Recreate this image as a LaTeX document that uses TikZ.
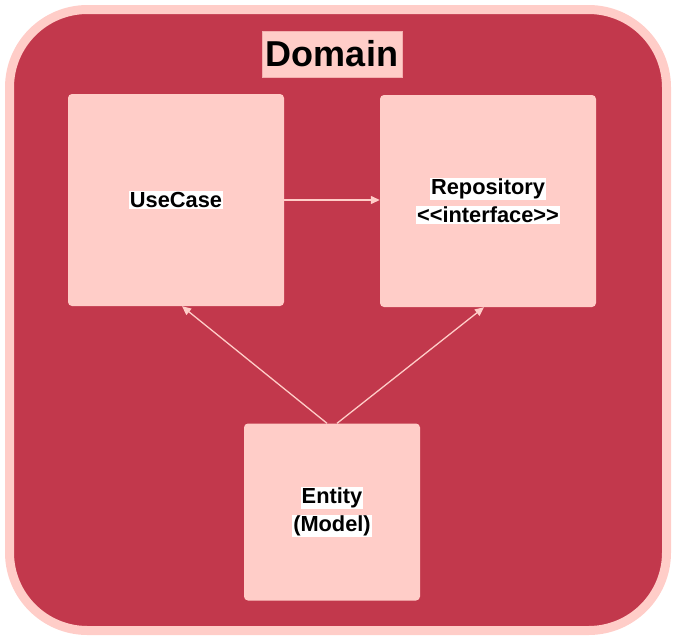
\documentclass[tikz,border=0pt]{standalone}
\usepackage{fontspec}
\setmainfont{Liberation Sans}
\usepackage{tikz}
\usetikzlibrary{arrows.meta,positioning}
\definecolor{domainred}{HTML}{C2384C}
\definecolor{domainpink}{HTML}{FFCDC8}
\newcommand{\wlabel}[1]{{\setlength{\fboxsep}{1pt}\colorbox{white}{#1}}}
\tikzset{
  layerbox/.style={fill=domainpink,rounded corners=4pt,inner sep=0pt,align=center,
    font=\fontsize{21.8}{28}\selectfont\bfseries},
  dep/.style={domainpink,line width=1.3pt,-{Triangle[length=9pt,width=8pt]}}
}

\begin{document}
\begin{tikzpicture}[x=1pt,y=-1pt]
\useasboundingbox (0,0) rectangle (676,640);
% Domain frame
\draw[domainpink,line width=9pt,fill=domainred,rounded corners=78pt] (9.5,9.5) rectangle (666.5,630.5);
\node[fill=domainpink,draw=domainpink!80!domainred,minimum width=140pt,minimum height=46pt,inner sep=0pt,
  font=\fontsize{36}{40}\selectfont\bfseries] (title) at (332,54) {Domain};

% Layers
\node[layerbox,minimum width=216pt,minimum height=212pt] (usecase) at (176,200) {\wlabel{UseCase}};
\node[layerbox,minimum width=216pt,minimum height=212pt] (repository) at (488,201)
  {\wlabel{Repository}\\\wlabel{<{}<interface>{}>}};
\node[layerbox,minimum width=176pt,minimum height=177pt] (entity) at (332,512)
  {\wlabel{Entity}\\\wlabel{(Model)}};

% Dependencies
\draw[dep] (usecase.east) -- (repository.west |- usecase.east);
\draw[dep] ([xshift=-5pt]entity.north) -- ([xshift=6pt]usecase.south);
\draw[dep] ([xshift=5pt]entity.north) -- ([xshift=-4pt]repository.south);
\end{tikzpicture}
\end{document}
